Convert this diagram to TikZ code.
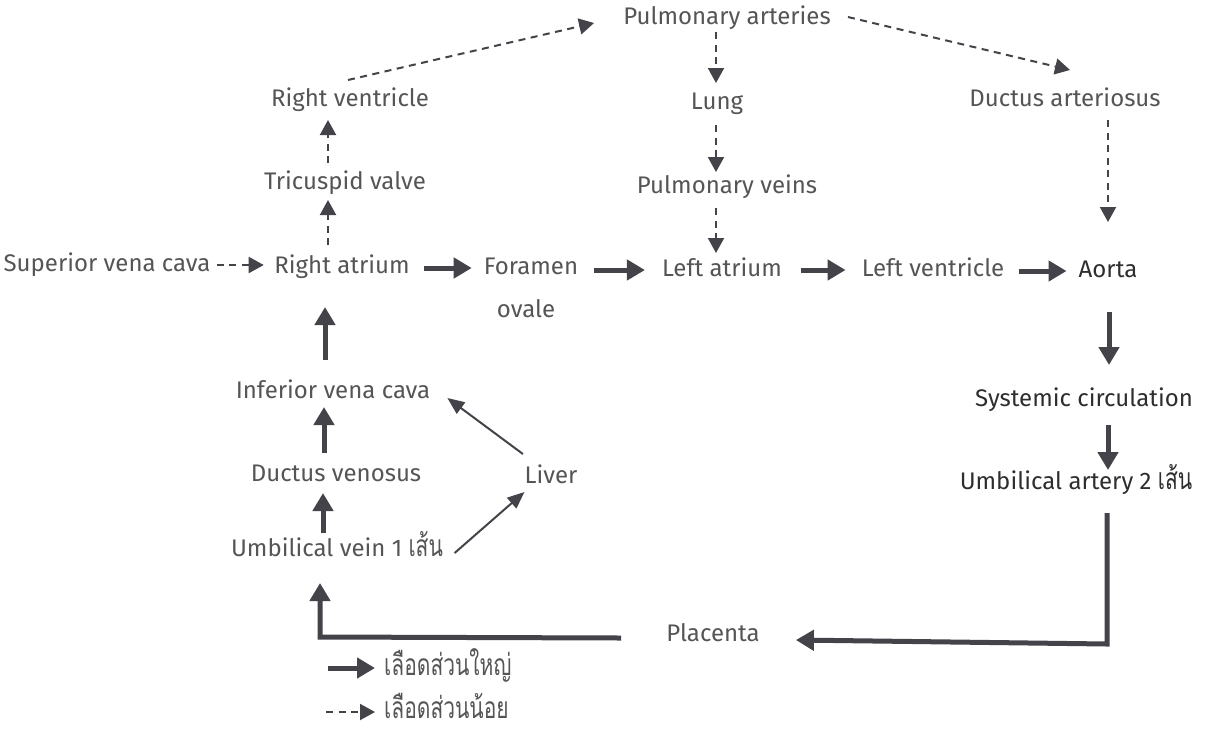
\documentclass[tikz,border=0pt]{standalone}
\usepackage{fontspec}
\setmainfont{Fira Sans}
\newfontfamily\thaifont[Script=Thai,Scale=1.25,FakeStretch=0.7]{Loma}
\usetikzlibrary{arrows.meta,calc}
\definecolor{txtgray}{HTML}{555555}
\definecolor{txtdark}{HTML}{2E2E2E}
\definecolor{arr}{HTML}{45434A}
\newcommand\lblfont{\fontsize{24}{28}\selectfont}
\begin{document}
\begin{tikzpicture}[x=1pt,y=-1pt,
  lbl/.style={inner sep=0pt, text height=17pt, text depth=5pt, text=txtgray, font=\lblfont},
  thk/.style={draw=arr, line width=5pt, line join=miter, -{Triangle[length=18pt,width=20pt]}},
  dsh/.style={draw=arr, line width=2pt, dash pattern=on 7pt off 5.5pt, -{Triangle[length=15pt,width=16pt]}},
  thn/.style={draw=arr, line width=2pt, -{Triangle[length=17pt,width=14pt]}}]
\useasboundingbox (0,0) rectangle (1212,729);
\fill[white] (0,0) rectangle (1212,729);

\node[lbl] (pa) at (727,18) {Pulmonary arteries};
\node[lbl] (rv) at (350,100) {Right ventricle};
\node[lbl] (lung) at (717,103) {Lung};
\node[lbl] (da) at (1065,100) {Ductus arteriosus};
\node[lbl] (tv) at (345,183) {Tricuspid valve};
\node[lbl] (pv) at (727,187) {Pulmonary veins};
\node[lbl] (svc) at (107,265) {Superior vena cava};
\node[lbl] (ra) at (342,267) {Right atrium};
\node[lbl] (fo) at (531,268) {Foramen};
\node[lbl] (fo2) at (526,311) {ovale};
\node[lbl] (la) at (722,270) {Left atrium};
\node[lbl] (lv) at (933,270) {Left ventricle};
\node[lbl,text=txtdark] (ao) at (1108,271) {Aorta};
\node[lbl,text=txtdark] (sys) at (1084,400) {Systemic circulation};
\node[lbl] (ivc) at (333,392) {Inferior vena cava};
\node[lbl] (liver) at (551,477) {Liver};
\node[lbl] (dv) at (336,475) {Ductus venosus};
\node[lbl] (uv) at (337,550) {Umbilical vein 1 {\thaifont เส้น}};
\node[lbl,text=txtdark] (ua) at (1076,483) {Umbilical artery 2 {\thaifont เส้น}};
\node[lbl] (pl) at (713,635) {Placenta};
\node[lbl,anchor=west] (lg1) at (384,669) {\thaifont เลือดส่วนใหญ่};
\node[lbl,anchor=west] (lg2) at (384,712) {\thaifont เลือดส่วนน้อย};

\coordinate (cL) at (328,0);
\coordinate (cB) at (324,0);
\coordinate (cB2) at (320,0);
\coordinate (cM) at (716,0);
\coordinate (cR) at (1108,0);

% horizontal main row
\draw[dsh] ($(ra.west)+(-57.5,-2)$) -- ($(ra.west)+(-10.5,-2)$);
\draw[thk] ($(fo.west)+(-60,0)$) -- ($(fo.west)+(-12,0)$);
\draw[thk] ($(la.west)+(-68,0)$) -- ($(la.west)+(-17,0)$);
\draw[thk] ($(lv.west)+(-61,0)$) -- ($(lv.west)+(-16,0)$);
\draw[thk] ($(ao.west)+(-60,0)$) -- ($(ao.west)+(-12,0)$);

% right heart to lungs
\draw[dsh] ($(ra -| cL)+(0,-22)$) -- ($(tv -| cL)+(0,17)$);
\draw[dsh] ($(tv -| cL)+(0,-20)$) -- ($(rv -| cL)+(0,20)$);
\draw[dsh] ($(rv)+(-2,-20)$) -- ($(pa.west)+(-29,5)$);
\draw[dsh] ($(pa -| cM)+(0,14)$) -- ($(lung -| cM)+(0,-20)$);
\draw[dsh] ($(pa.east)+(17,-1)$) -- ($(da)+(5,-30)$);
\draw[dsh] ($(lung -| cM)+(0,22)$) -- ($(pv -| cM)+(0,-15)$);
\draw[dsh] ($(pv -| cM)+(0,21)$) -- ($(la -| cM)+(0,-17)$);
\draw[dsh] ($(da -| cR)+(0,20)$) -- ($(ao -| cR)+(0,-49)$);

% systemic side
\draw[thk] ($(ao -| cR)+(1,41)$) -- ($(sys -| cR)+(1,-35)$);
\draw[thk] ($(sys -| cR)+(0,25)$) -- ($(ua -| cR)+(0,-13)$);
\draw[thk] ($(ua -| cR)+(-1,30)$) -- ($(pl -| cR)+(-1,9)$) -- ($(pl.east)+(36,5)$);
\draw[thk] ($(pl.west)+(-45,3)$) -- ($(pl -| cB2)+(0,2)$) -- ($(uv -| cB2)+(0,33)$);

% venous return
\draw[thk] ($(uv -| cB)+(-1,-17)$) -- ($(dv -| cB)+(-1,18)$);
\draw[thk] ($(dv -| cB)+(0,-22)$) -- ($(ivc -| cB)+(0,15)$);
\draw[thk] ($(ivc -| cB)+(1,-32)$) -- ($(ra -| cB)+(1,40)$);
\draw[thn] ($(uv.east)+(11.5,3)$) -- ($(liver.west)+(0,15)$);
\draw[thn] ($(liver.west)+(-1.5,-23)$) -- ($(ivc.east)+(17,6)$);

% legend
\draw[thk] ($(lg1.west)+(-56,-1)$) -- ($(lg1.west)+(-9,-1)$);
\draw[dsh] ($(lg2.west)+(-58,0)$) -- ($(lg2.west)+(-9,0)$);
\end{tikzpicture}
\end{document}
